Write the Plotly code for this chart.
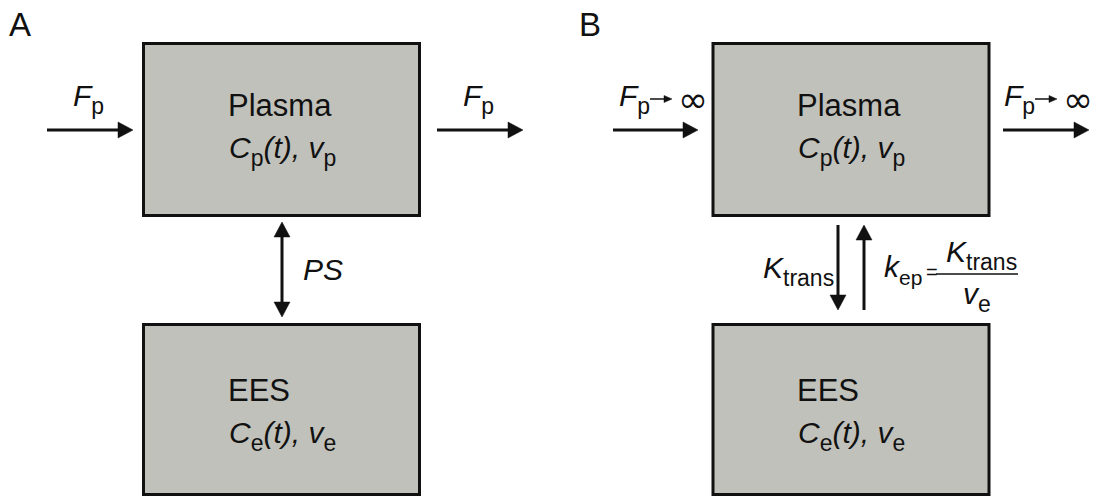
import plotly.graph_objects as go

W, H = 1098, 497
FONT = "Liberation Sans, Arial, Helvetica, sans-serif"
INK = "#111111"
BOX_FILL = "rgb(193,193,187)"
MAIN = 30
SUBSZ = 23
SUBSHIFT = 8

# ---- compartments (box edges) ----
box_names = ["Plasma A", "EES A", "Plasma B", "EES B"]
box_x0 = [143.5, 143.5, 713, 713]
box_x1 = [419.5, 419.5, 989, 989]
box_y0 = [43.5, 324.5, 43.5, 324.5]
box_y1 = [215.5, 494.5, 215.5, 494.5]

# ---- flow arrows ----
arrow_x0 = [47, 437, 282, 613, 1003, 838, 864]
arrow_y0 = [130, 130, 317, 130, 130, 225, 310]
arrow_x1 = [133, 523, 282, 698, 1089, 838, 864]
arrow_y1 = [130, 130, 222, 130, 130, 310, 225]
arrow_both = [False, False, True, False, False, False, False]

# small "tends to" arrows inside F_p -> infinity labels
small_x0 = [650, 1035]
small_x1 = [672, 1057]
small_y = [99, 99]


def sub(s, size=SUBSZ):
    return "<span style='font-size:%dpx;baseline-shift:-%dpx'>%s</span>" % (size, SUBSHIFT, s)


# ---- text labels ----
label_text = [
    "A", "B",
    "<i>F</i>" + sub("p"), "<i>F</i>" + sub("p"), "<i>PS</i>",
    "Plasma", "<i>C</i>" + sub("p") + "<i>(t), v</i>" + sub("p"),
    "EES", "<i>C</i>" + sub("e") + "<i>(t), v</i>" + sub("e"),
    "Plasma", "<i>C</i>" + sub("p") + "<i>(t), v</i>" + sub("p"),
    "EES", "<i>C</i>" + sub("e") + "<i>(t), v</i>" + sub("e"),
    "<i>F</i>" + sub("p"), "<i>F</i>" + sub("p"),
    "<i>K</i>" + sub("trans"), "<i>k</i>" + sub("ep", 21),
    "<i>K</i>" + sub("trans"), "<i>v</i>" + sub("e"),
]
label_size = [33, 33, 30, 30, 30, 31, 30, 31, 30, 31, 30, 31, 30, 30, 30, 30, 30, 30, 30]
label_x = [8, 578, 72, 462, 302, 227, 228, 227, 228, 796, 797, 796, 797,
           618, 1003, 762, 883, 945, 962]
label_base = [36, 36, 109, 109, 280, 116, 161, 401, 446, 116, 161, 401, 446,
              109, 109, 281, 280, 265, 307]

inf_x = [677, 1062]
inf_y = [99, 99]

eq_x, eq_y = 925, 271.5
frac_x0, frac_x1, frac_y = 936, 1018, 274

fig = go.Figure()
shapes = []
for i in range(len(box_names)):
    shapes.append(dict(type="rect", xref="x", yref="y",
                       x0=box_x0[i], x1=box_x1[i], y0=box_y0[i], y1=box_y1[i],
                       fillcolor=BOX_FILL, line=dict(color=INK, width=3), layer="below"))

HEAD_L, HEAD_W = 15, 8


def head(tx, ty, dx, dy, L, hw):
    n = (dx * dx + dy * dy) ** 0.5
    ux, uy = dx / n, dy / n
    bx, by = tx - ux * L, ty - uy * L
    px, py = -uy, ux
    p = "M %.2f %.2f L %.2f %.2f L %.2f %.2f Z" % (
        tx, ty, bx + px * hw, by + py * hw, bx - px * hw, by - py * hw)
    return p, bx, by


for i in range(len(arrow_x0)):
    x0, y0, x1, y1 = arrow_x0[i], arrow_y0[i], arrow_x1[i], arrow_y1[i]
    p, bx, by = head(x1, y1, x1 - x0, y1 - y0, HEAD_L, HEAD_W)
    shapes.append(dict(type="path", path=p, fillcolor=INK, line=dict(color=INK, width=0.5)))
    sx, sy = x0, y0
    if arrow_both[i]:
        p2, sx, sy = head(x0, y0, x0 - x1, y0 - y1, HEAD_L, HEAD_W)
        shapes.append(dict(type="path", path=p2, fillcolor=INK, line=dict(color=INK, width=0.5)))
    shapes.append(dict(type="line", x0=sx, y0=sy, x1=bx, y1=by,
                       line=dict(color=INK, width=3)))

for i in range(len(small_x0)):
    p, bx, by = head(small_x1[i], small_y[i], 1, 0, 8, 3.5)
    shapes.append(dict(type="path", path=p, fillcolor=INK, line=dict(color=INK, width=0.5)))
    shapes.append(dict(type="line", x0=small_x0[i], y0=small_y[i], x1=bx, y1=by,
                       line=dict(color=INK, width=1.5)))

shapes.append(dict(type="line", x0=frac_x0, x1=frac_x1, y0=frac_y, y1=frac_y,
                   line=dict(color=INK, width=1.5)))

annotations = []
ASC, DESC = 0.905, 0.212
for i, t in enumerate(label_text):
    s = label_size[i]
    top = label_base[i] - ASC * s
    bot = label_base[i] + DESC * s
    yc = (top + bot) / 2
    annotations.append(dict(x=label_x[i], y=yc, xref="x", yref="y", text=t,
                            showarrow=False, xanchor="left", yanchor="middle",
                            borderpad=0, font=dict(family=FONT, size=s, color=INK)))

for i in range(len(inf_x)):
    annotations.append(dict(x=inf_x[i], y=inf_y[i], text="∞", showarrow=False,
                            xanchor="left", yanchor="middle", borderpad=0,
                            font=dict(family="DejaVu Sans", size=36, color=INK)))

annotations.append(dict(x=eq_x, y=eq_y, text="=", showarrow=False, xanchor="left",
                        yanchor="middle", borderpad=0,
                        font=dict(family=FONT, size=20, color=INK)))

fig.update_layout(
    width=W, height=H, margin=dict(l=0, r=0, t=0, b=0),
    paper_bgcolor="white", plot_bgcolor="white",
    xaxis=dict(range=[0, W], visible=False, fixedrange=True),
    yaxis=dict(range=[H, 0], visible=False, fixedrange=True),
    shapes=shapes, annotations=annotations, showlegend=False,
)
fig.write_html("out.html")
